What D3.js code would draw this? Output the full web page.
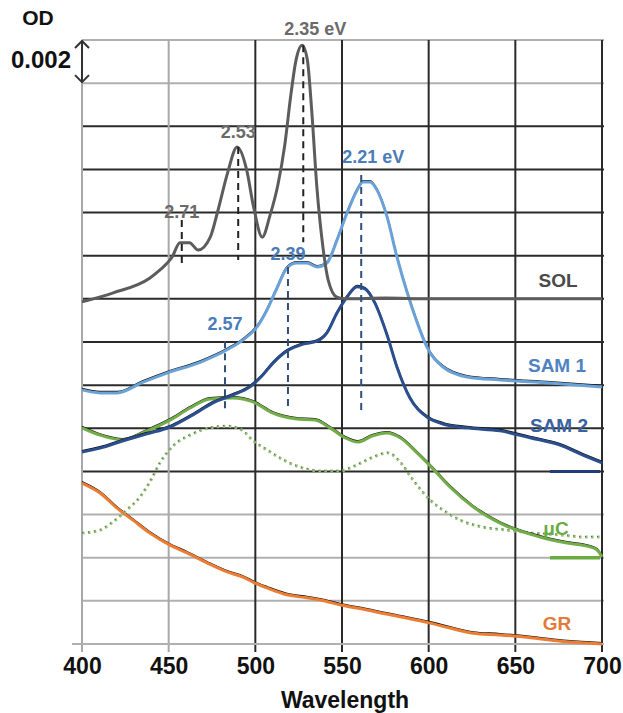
<!DOCTYPE html>
<html><head><meta charset="utf-8">
<script src="https://cdn.jsdelivr.net/npm/d3@7"></script>
<style>
body{margin:0;background:#fff;}
text{font-family:"Liberation Sans",Arial,sans-serif;}
</style></head>
<body><svg id="c" width="623" height="713"></svg>
<script>
// ---- data (wavelength nm, OD) ----
const xTicks = [400,450,500,550,600,650,700];
const yGridOD = d3.range(0,15).map(i=>i*0.002);

const solWl  = [400,418,439,445,452,456.5,462,467,474,478.5,484,489.5,495,499,504,508.5,513,517,520.5,523.5,527,530,532.5,535.5,539,542,547,552,575,600,650,700];
const solOD  = [0.01586,0.01628,0.01696,0.01734,0.01794,0.0186,0.0186,0.01826,0.01886,0.02012,0.02184,0.02304,0.02198,0.02026,0.01886,0.01988,0.02128,0.02314,0.02546,0.02708,0.02776,0.02708,0.02476,0.02118,0.0184,0.01688,0.01608,0.016,0.01604,0.016,0.016,0.016];

const sam1Wl = [400,410.4,420.2,435.2,449,468.1,483.7,492.9,501,506.7,512.5,518.3,524,529.8,535.6,541.3,547.1,552.9,558.7,562.1,566.2,570.2,576,581.7,587.5,593.3,599,608.3,622.1,641.2,670,700];
const sam1OD = [0.01178,0.01164,0.01164,0.01214,0.01256,0.01306,0.01364,0.0141,0.0147,0.01548,0.0165,0.01744,0.01766,0.01766,0.01748,0.01766,0.01872,0.01998,0.02104,0.02142,0.02142,0.02104,0.0198,0.01794,0.01632,0.01492,0.01376,0.01284,0.01238,0.01224,0.0121,0.01192];

const sam2Wl = [400,410.4,423.7,437.5,450.8,464,475.6,487.1,496.9,503.8,510.2,518.3,527.5,535.6,541.3,547.1,552.9,558.7,563.3,569,576,581.7,589.2,599,608.3,622.1,641.2,658.5,675.8,689,700];
const sam2OD = [0.0089,0.00908,0.00942,0.00974,0.01006,0.01062,0.01118,0.01154,0.01192,0.01242,0.01302,0.01358,0.0139,0.01404,0.01442,0.01534,0.01608,0.01656,0.01646,0.0158,0.01432,0.01284,0.0114,0.01052,0.0102,0.01002,0.00988,0.00956,0.00922,0.00876,0.0084];

const ucWl   = [400,410.4,423.7,437.5,450.8,462.3,473.8,487.1,498.7,510.2,522.9,534.4,543.1,551.7,559.2,567.3,576,583.5,593.3,602.5,612.3,625.6,641.2,664.2,679.8,693.1,697.1,700];
const ucOD   = [0.01002,0.00968,0.00946,0.00988,0.01038,0.01094,0.01136,0.0114,0.01122,0.0107,0.01044,0.01038,0.01002,0.00956,0.00936,0.00964,0.00978,0.00956,0.00886,0.00812,0.00728,0.00636,0.0056,0.00496,0.00468,0.0045,0.00436,0.00404];

const ucDotWl = [400,410.4,417.9,426,433.5,439.2,445,452.5,462.3,473.8,483.7,492.2,498.7,506.7,516,525.8,537.3,548.8,557.5,567.9,576.5,583.5,591,600.8,610.6,618.1,631.3,645.2,660.2,675.8,689,700];
const ucDotOD = [0.00514,0.00528,0.00566,0.00622,0.00682,0.00752,0.0084,0.00918,0.00968,0.01002,0.0101,0.00992,0.00942,0.009,0.00854,0.0082,0.00802,0.00802,0.00826,0.00866,0.00886,0.00844,0.0076,0.00668,0.00608,0.00574,0.00542,0.00528,0.00514,0.00506,0.00496,0.00496];

const grWl   = [400,410.4,420.2,429.4,439.2,450.8,460.6,472.1,483.7,492.9,499.8,506.7,518.3,529.8,537.3,550,564.4,583.5,600.2,612.3,625.6,641.2,660.2,679.8,700];
const grOD   = [0.00746,0.007,0.0063,0.00574,0.00514,0.00458,0.00422,0.00376,0.00334,0.0031,0.00282,0.0026,0.00228,0.00214,0.00204,0.0018,0.00158,0.00126,0.00098,0.00074,0.0005,0.00042,0.00028,0.0001,0.0];

const solPeaksEV = [2.71, 2.53, 2.35];
const solPeakLabels = ["2.71","2.53","2.35 eV"];
const sam1PeaksEV = [2.57, 2.39, 2.21];
const sam1PeakLabels = ["2.57","2.39","2.21 eV"];
const seriesNames = ["SOL","SAM 1","SAM 2","μC","GR"];
const baselineOD = [0.008, 0.004]; // SAM 2 and μC reference levels
const scaleBarOD = 0.002;

// ---- drawing ----
const svg = d3.select("#c");
const x = d3.scaleLinear().domain([400,700]).range([82,602]);
const y = d3.scaleLinear().domain([0,0.028]).range([644,40]);

// grid
const g = svg.append("g");
g.selectAll("line.h").data(yGridOD).join("line")
  .attr("x1", x(400)).attr("x2", x(700)+2)
  .attr("y1", d=>y(d)).attr("y2", d=>y(d))
  .attr("stroke", (d,i)=> (i>=4 && i<=12) ? "#2a2a2a" : "#b0b0b0")
  .attr("stroke-width", 2);
g.selectAll("line.v").data(xTicks).join("line")
  .attr("x1", d=>x(d)).attr("x2", d=>x(d))
  .attr("y1", y(0.028)).attr("y2", y(0)+8)
  .attr("stroke", d=> d<500 ? "#a8a8a8" : "#2a2a2a")
  .attr("stroke-width", 2);
svg.append("line").attr("x1",72).attr("x2",x(700)+2).attr("y1",y(0)).attr("y2",y(0))
  .attr("stroke","#b0b0b0").attr("stroke-width",2);

// x axis labels
const ax = svg.append("g").attr("transform",`translate(0,${y(0)})`)
  .call(d3.axisBottom(x).tickValues(xTicks).tickSize(0).tickPadding(14).tickFormat(d3.format("d")));
ax.select(".domain").remove();
ax.selectAll("text").attr("font-size",23).attr("font-weight","bold").attr("fill","#111")
  .attr("font-family","'Liberation Sans',Arial,sans-serif");

svg.append("text").attr("x",345).attr("y",708).attr("text-anchor","middle")
  .attr("font-size",23).attr("font-weight","bold").attr("fill","#111").text("Wavelength");
svg.append("text").attr("x",38).attr("y",25).attr("text-anchor","middle")
  .attr("font-size",21).attr("font-weight","bold").attr("fill","#111").text("OD");
svg.append("text").attr("x",71).attr("y",68).attr("text-anchor","end")
  .attr("font-size",24).attr("font-weight","bold").attr("fill","#111").text("0.002");

// scale bar double arrow
const yTop = y(0.028), yBot = y(0.028-scaleBarOD);
const ab = svg.append("g").attr("stroke","#333").attr("stroke-width",2).attr("fill","none");
ab.append("line").attr("x1",82).attr("x2",82).attr("y1",yTop+1).attr("y2",yBot-1);
ab.append("path").attr("d",`M75,${yTop+8} L82,${yTop+1} L89,${yTop+8}`);
ab.append("path").attr("d",`M75,${yBot-8} L82,${yBot-1} L89,${yBot-8}`);

// short reference lines
svg.append("line").attr("x1",x(670)).attr("x2",x(700)-2).attr("y1",y(baselineOD[0])).attr("y2",y(baselineOD[0]))
  .attr("stroke","#1f3d7a").attr("stroke-width",3);
svg.append("line").attr("x1",x(670)).attr("x2",x(700)-2).attr("y1",y(baselineOD[1])).attr("y2",y(baselineOD[1]))
  .attr("stroke","#6aab3f").attr("stroke-width",3.5);

// curves
const line = d3.line().x(d=>x(d[0])).y(d=>y(d[1])).curve(d3.curveMonotoneX);
function zip(a,b){return a.map((v,i)=>[v,b[i]]);}
function drawCurve(wl, od, color, w, outline){
  const data = zip(wl,od);
  if(outline){
    svg.append("path").datum(data).attr("d",line).attr("fill","none")
      .attr("stroke","#111").attr("stroke-width",1.3).attr("transform","translate(0,-1.4)");
  }
  svg.append("path").datum(data).attr("d",line).attr("fill","none")
    .attr("stroke",color).attr("stroke-width",w).attr("stroke-linejoin","round");
}
drawCurve(grWl, grOD, "#ec7d33", 3, true);
// dotted μC
svg.append("path").datum(zip(ucDotWl,ucDotOD)).attr("d",line).attr("fill","none")
  .attr("stroke","#93bf74").attr("stroke-width",3).attr("stroke-dasharray","2.5,3.5");
svg.append("path").datum(zip(ucDotWl,ucDotOD)).attr("d",line).attr("fill","none")
  .attr("stroke","#555").attr("stroke-width",1).attr("stroke-dasharray","1,5").attr("transform","translate(0,-0.5)");
drawCurve(ucWl, ucOD, "#72ad4a", 3, true);
drawCurve(sam2Wl, sam2OD, "#2b4f8e", 3, true);
drawCurve(sam1Wl, sam1OD, "#6aa2d8", 3, true);
drawCurve(solWl, solOD, "#5c5c5c", 3, false);

// peak markers
const solDash = [[0.01966,0.01748],[0.02304,0.01780],[0.02776,0.01862]];
const sam1Dash = [[0.01404,0.01072],[0.01748,0.01094],[0.02174,0.01080]];
function peaks(evs, labels, dash, color, txtColor, labelY, eVAnchorOffset){
  evs.forEach((e,i)=>{
    const lx = x(1240/e);
    svg.append("line").attr("x1",lx).attr("x2",lx).attr("y1",y(dash[i][0])).attr("y2",y(dash[i][1]))
      .attr("stroke",color).attr("stroke-width",2).attr("stroke-dasharray","7,5");
    const t = svg.append("text").attr("y",labelY[i]).attr("font-size",18).attr("font-weight","bold")
      .attr("fill",txtColor).text(labels[i]);
    if(labels[i].indexOf("eV")>=0){ t.attr("x",lx-eVAnchorOffset).attr("text-anchor","start"); }
    else { t.attr("x",lx).attr("text-anchor","middle"); }
  });
}
peaks(solPeaksEV, solPeakLabels, solDash, "#222", "#6a6a6a", [218,138,35], 19);
peaks(sam1PeaksEV, sam1PeakLabels, sam1Dash, "#2f4f7a", "#4a7cb8", [330,260,163], 19);

// series labels
const labColors = ["#4a4a4a","#4f82c0","#3a62a0","#6aab45","#e27a38"];
const labPos = [[558,287],[557,372],[559,432],[556,535],[557,630]];
seriesNames.forEach((n,i)=>{
  svg.append("text").attr("x",labPos[i][0]).attr("y",labPos[i][1]).attr("text-anchor","middle")
    .attr("font-size",19).attr("font-weight","bold").attr("fill",labColors[i]).text(n);
});
</script></body></html>
